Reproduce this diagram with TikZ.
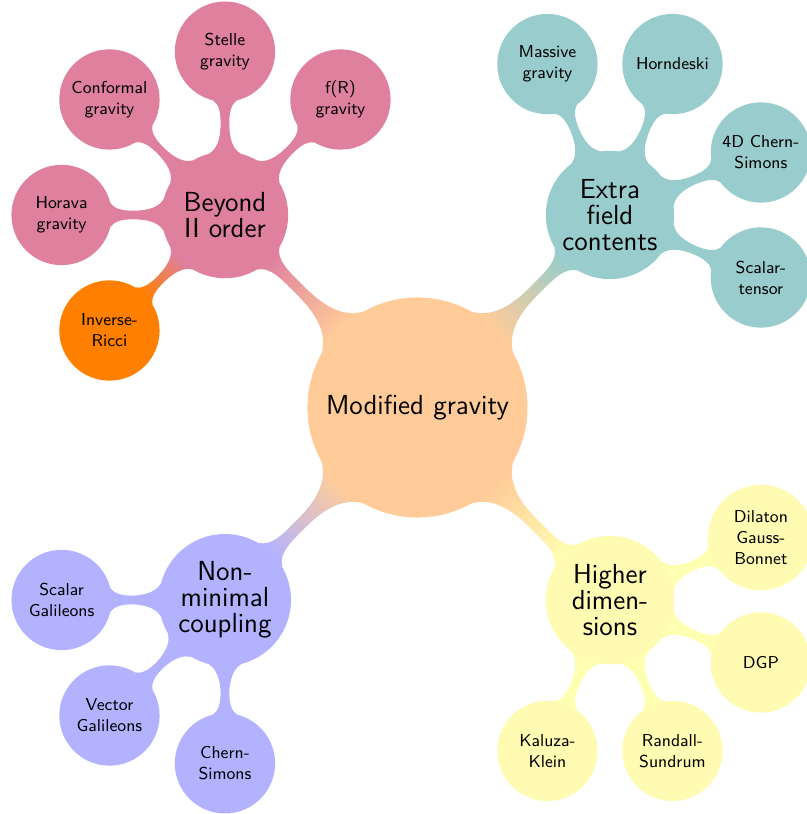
\documentclass[tikz,border=0pt]{standalone}
\usetikzlibrary{mindmap,backgrounds,calc}
\colorlet{cRoot}{orange!40}
\colorlet{cBeyond}{purple!50}
\colorlet{cExtra}{teal!40}
\colorlet{cNon}{blue!30}
\colorlet{cHigh}{yellow!30}
\colorlet{cInv}{orange}
\begin{document}
\begin{tikzpicture}[mindmap,
  rootc/.style={concept, concept color=cRoot, minimum size=4cm, text width=3.5cm,
    font=\sffamily\fontsize{14.4}{13.5}\selectfont},
  lone/.style={concept, minimum size=2.28cm, text width=1.8cm,
    font=\sffamily\fontsize{14.4}{13.5}\selectfont},
  ltwo/.style={concept, minimum size=1.8cm, text width=1.5cm,
    font=\sffamily\fontsize{9}{11}\selectfont}]
\useasboundingbox (-7.667,-7.466) rectangle (7.153,7.484);
% root and level 1
\node[rootc] (root) at (0,0) {Modified gravity};
\node[lone, concept color=cBeyond] (beyond) at (135:5) {Beyond II order};
\node[lone, concept color=cExtra] (extra) at (45:5) {Extra field contents};
\node[lone, concept color=cNon] (non) at (225:5) {Non-minimal coupling};
\node[lone, concept color=cHigh] (high) at (315:5) {Higher dimensions};
% Beyond II order
\node[ltwo, concept color=cBeyond] (horava) at ($(beyond)+(180:3)$) {Horava gravity};
\node[ltwo, concept color=cBeyond] (conformal) at ($(beyond)+(135:3)$) {Conformal gravity};
\node[ltwo, concept color=cBeyond] (stelle) at ($(beyond)+(90:3)$) {Stelle gravity};
\node[ltwo, concept color=cBeyond] (fr) at ($(beyond)+(45:3)$) {f(R) gravity};
\node[ltwo, concept color=cInv] (inv) at ($(beyond)+(225:3)$) {Inverse-Ricci};
% Extra field contents
\node[ltwo, concept color=cExtra] (massive) at ($(extra)+(112.5:3)$) {Massive gravity};
\node[ltwo, concept color=cExtra] (horn) at ($(extra)+(67.5:3)$) {Horndeski};
\node[ltwo, concept color=cExtra] (cs4) at ($(extra)+(22.5:3)$) {4D Chern-Simons};
\node[ltwo, concept color=cExtra] (st) at ($(extra)+(-22.5:3)$) {Scalar-tensor};
% Non-minimal coupling
\node[ltwo, concept color=cNon] (sgal) at ($(non)+(180:3)$) {Scalar Galileons};
\node[ltwo, concept color=cNon] (vgal) at ($(non)+(225:3)$) {Vector Galileons};
\node[ltwo, concept color=cNon] (cs) at ($(non)+(270:3)$) {Chern-Simons};
% Higher dimensions
\node[ltwo, concept color=cHigh] (dil) at ($(high)+(22.5:3)$) {Dilaton Gauss-Bonnet};
\node[ltwo, concept color=cHigh] (dgp) at ($(high)+(-22.5:3)$) {DGP};
\node[ltwo, concept color=cHigh] (rs) at ($(high)+(-67.5:3)$) {Randall-Sundrum};
\node[ltwo, concept color=cHigh] (kk) at ($(high)+(-112.5:3)$) {Kaluza-Klein};
% connections
\begin{scope}[on background layer]
\path (root) to[circle connection bar switch color=from (cRoot) to (cBeyond)] (beyond);
\path (root) to[circle connection bar switch color=from (cRoot) to (cExtra)] (extra);
\path (root) to[circle connection bar switch color=from (cRoot) to (cNon)] (non);
\path (root) to[circle connection bar switch color=from (cRoot) to (cHigh)] (high);
\foreach \c in {horava,conformal,stelle,fr}
  \path (beyond) to[circle connection bar switch color=from (cBeyond) to (cBeyond)] (\c);
\path (beyond) to[circle connection bar switch color=from (cBeyond) to (cInv)] (inv);
\foreach \c in {massive,horn,cs4,st}
  \path (extra) to[circle connection bar switch color=from (cExtra) to (cExtra)] (\c);
\foreach \c in {sgal,vgal,cs}
  \path (non) to[circle connection bar switch color=from (cNon) to (cNon)] (\c);
\foreach \c in {dil,dgp,rs,kk}
  \path (high) to[circle connection bar switch color=from (cHigh) to (cHigh)] (\c);
\end{scope}
\end{tikzpicture}
\end{document}
